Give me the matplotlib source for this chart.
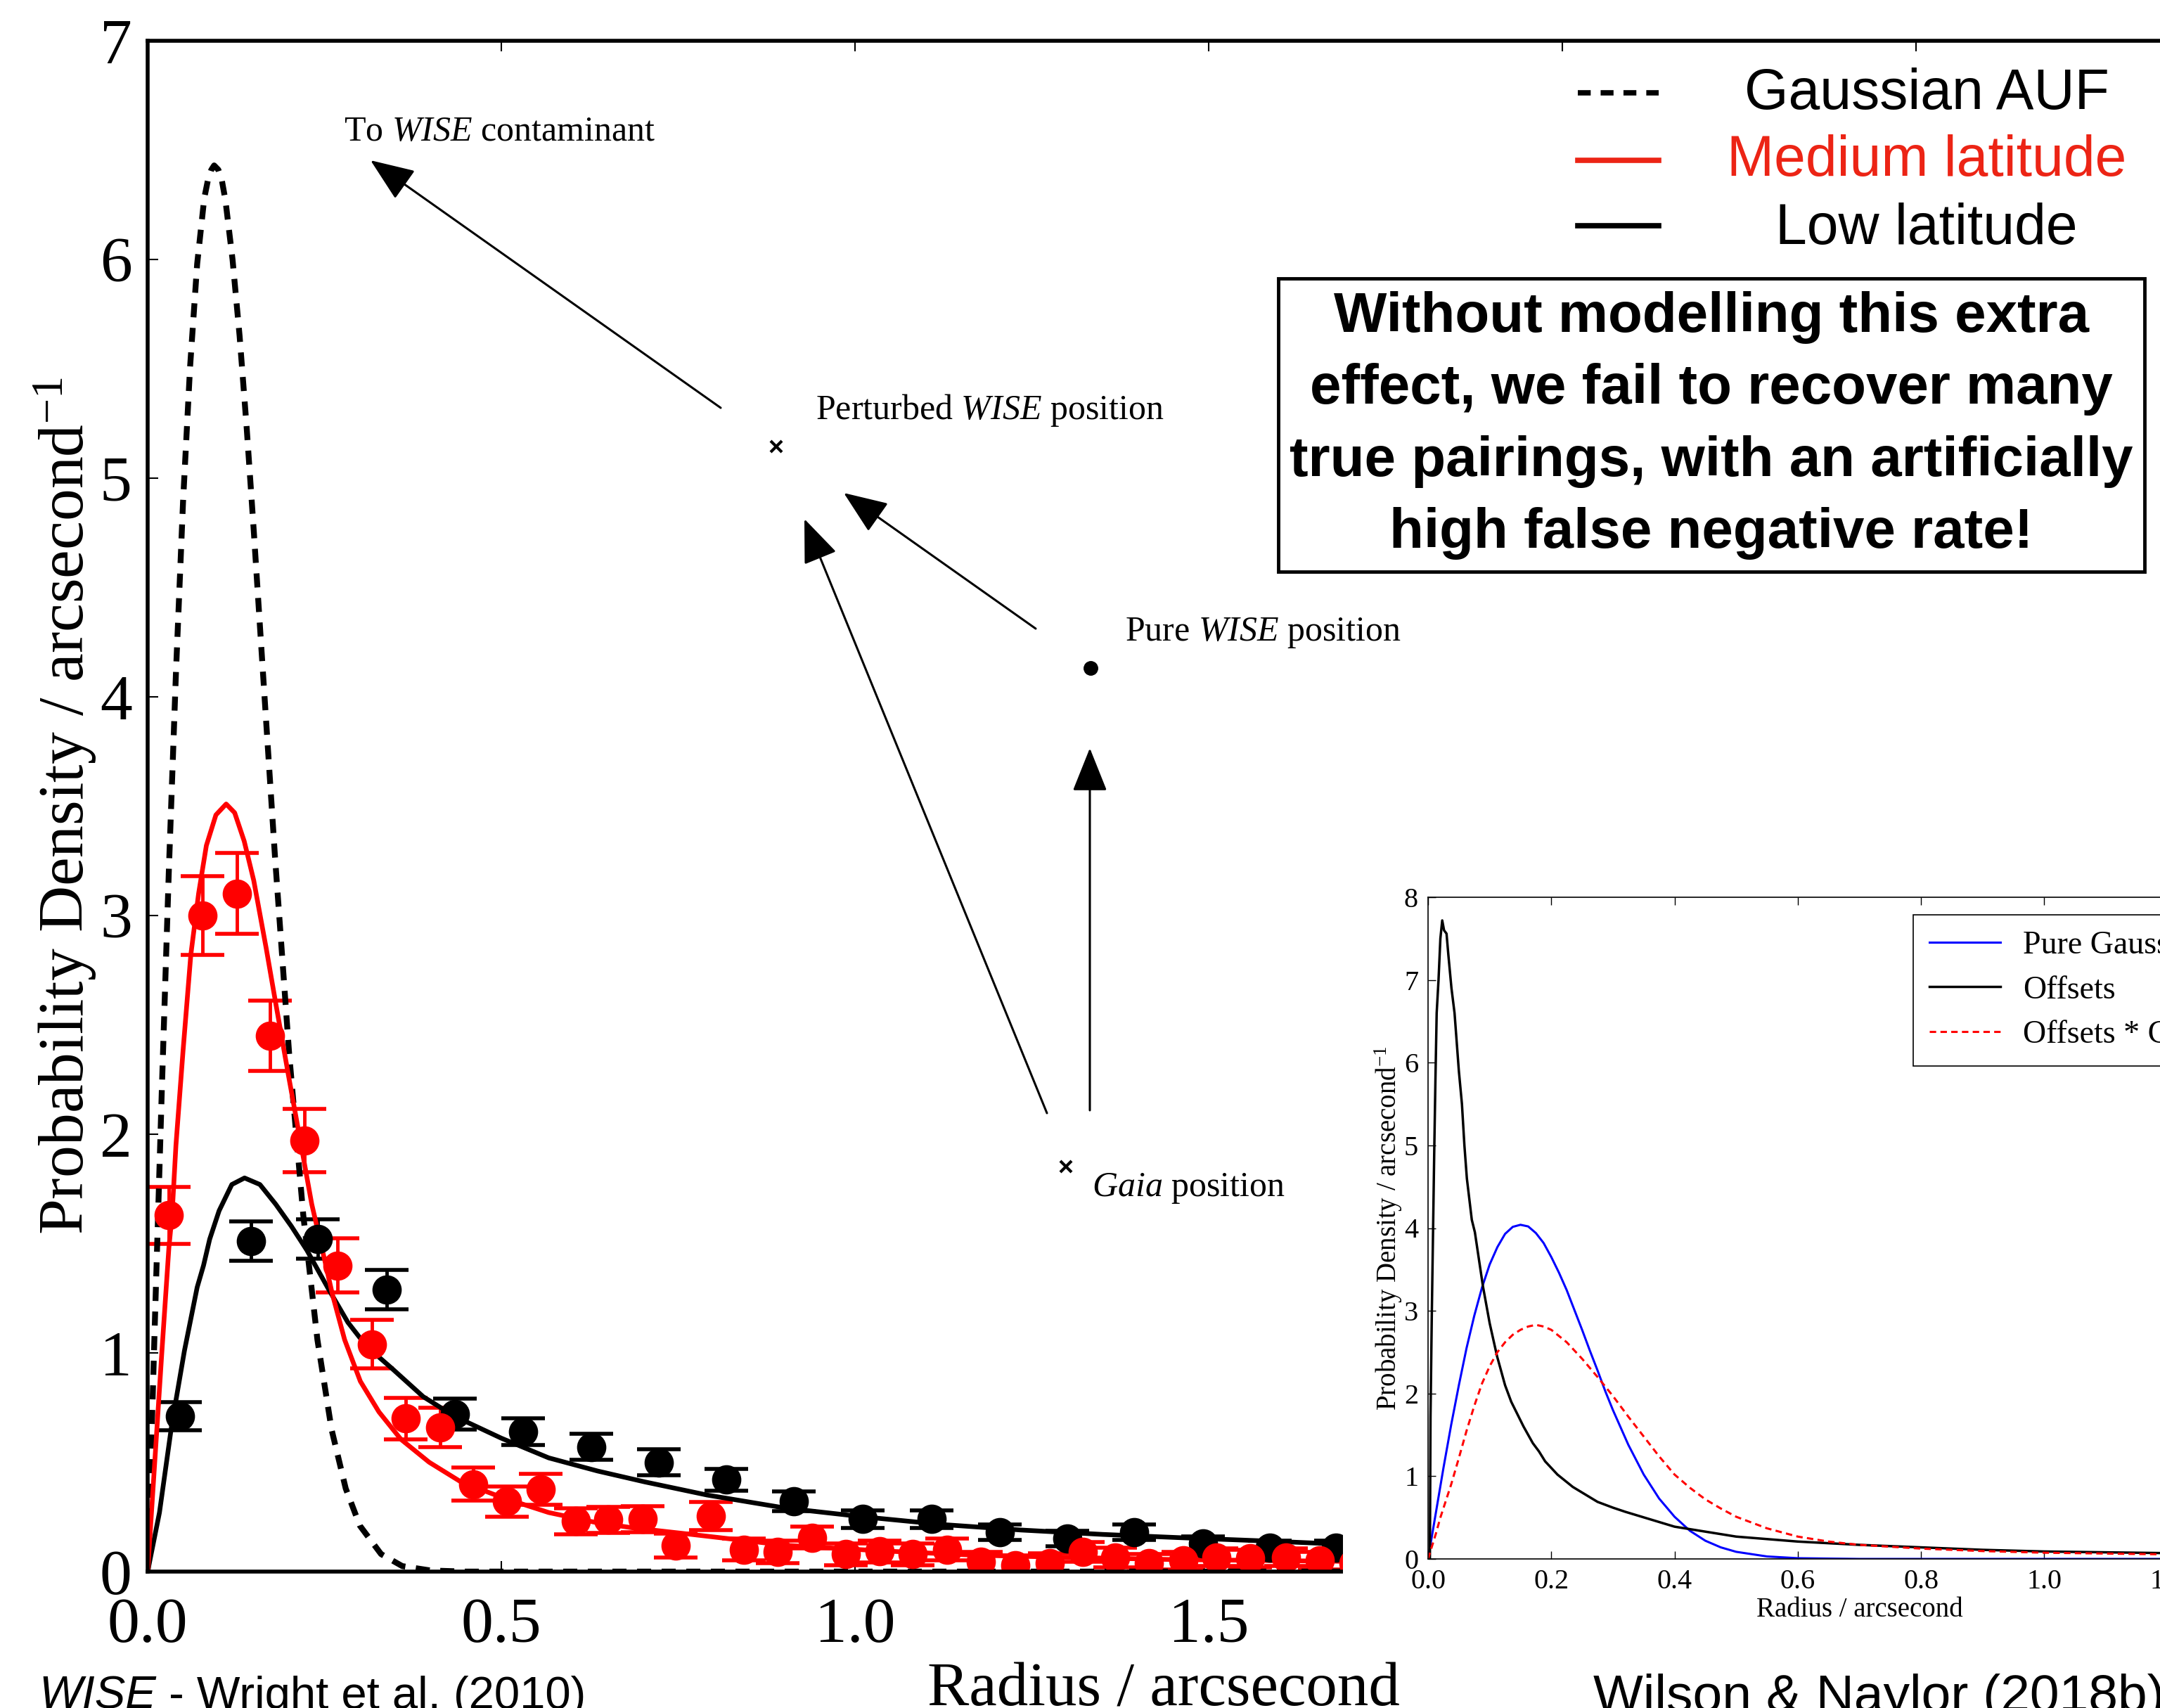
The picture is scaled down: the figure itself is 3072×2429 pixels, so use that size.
import matplotlib
matplotlib.use("Agg")
import matplotlib.pyplot as plt
from matplotlib.patches import Rectangle

plt.rcParams['font.family'] = ['Liberation Serif', 'DejaVu Serif']
plt.rcParams['mathtext.fontset'] = 'custom'
plt.rcParams['mathtext.rm'] = 'Liberation Serif'
plt.rcParams['mathtext.it'] = 'Liberation Serif:italic'
plt.rcParams['mathtext.bf'] = 'Liberation Serif:bold'

W, H = 3072, 2429
SANS = ['Liberation Sans', 'DejaVu Sans']
RED_TXT = '#ec2415'

# ---- main panel: WISE AUF ----
gauss_x = [0, 0.01, 0.02, 0.03, 0.04, 0.05, 0.06, 0.07, 0.08, 0.085, 0.09, 0.094, 0.10, 0.105,
           0.11, 0.12, 0.13, 0.14, 0.15, 0.16, 0.18, 0.20, 0.22, 0.24, 0.26, 0.28, 0.30, 0.33,
           0.36, 0.40, 0.45, 3.0]
gauss_y = [0, 1.12, 2.20, 3.21, 4.11, 4.89, 5.51, 5.98, 6.28, 6.36, 6.41, 6.43, 6.41, 6.36,
           6.27, 6.00, 5.65, 5.23, 4.76, 4.26, 3.27, 2.37, 1.63, 1.06, 0.65, 0.38, 0.21, 0.08,
           0.025, 0.005, 0, 0]

med_fit_x = [0, 0.01, 0.02, 0.03, 0.0345, 0.04, 0.05, 0.061, 0.072, 0.083, 0.0965, 0.111, 0.123,
             0.1365, 0.150, 0.1676, 0.181, 0.199, 0.2164, 0.232, 0.252, 0.261, 0.2785, 0.3007,
             0.327, 0.358, 0.398, 0.443, 0.500, 0.567, 0.633, 0.686, 0.769, 0.9025, 1.036,
             1.169, 1.302, 1.45, 1.6, 1.75]
med_fit_y = [0, 0.50, 1.00, 1.48, 1.63, 1.95, 2.38, 2.82, 3.10, 3.32, 3.46, 3.51, 3.47,
             3.34, 3.16, 2.85, 2.60, 2.27, 1.96, 1.68, 1.40, 1.27, 1.06, 0.87,
             0.73, 0.605, 0.50, 0.41, 0.34, 0.27, 0.225, 0.20, 0.17, 0.12, 0.095,
             0.075, 0.065, 0.055, 0.05, 0.045]

low_fit_x = [0, 0.0167, 0.034, 0.052, 0.070, 0.079, 0.0877, 0.101, 0.119, 0.137, 0.1587, 0.181,
             0.203, 0.225, 0.256, 0.283, 0.3095, 0.345, 0.3895, 0.434, 0.500, 0.567, 0.636,
             0.703, 0.791, 0.9025, 1.013, 1.124, 1.235, 1.35, 1.46, 1.58, 1.69, 1.75]
low_fit_y = [0, 0.27, 0.67, 1.01, 1.30, 1.40, 1.52, 1.65, 1.77, 1.80, 1.77, 1.68,
             1.58, 1.47, 1.29, 1.14, 1.03, 0.93, 0.80, 0.71, 0.61, 0.52, 0.46,
             0.41, 0.35, 0.29, 0.25, 0.215, 0.19, 0.17, 0.155, 0.14, 0.125, 0.12]

med_x = [0.030, 0.078, 0.126, 0.173, 0.222, 0.268, 0.317, 0.365, 0.414, 0.460, 0.508, 0.556,
         0.605, 0.651, 0.700, 0.747, 0.796, 0.843, 0.891, 0.939, 0.987, 1.035, 1.082, 1.130,
         1.178, 1.227, 1.275, 1.322, 1.368, 1.416, 1.464, 1.511, 1.559, 1.609, 1.657, 1.705]
med_y = [1.63, 3.00, 3.10, 2.45, 1.97, 1.40, 1.04, 0.70, 0.66, 0.40, 0.32, 0.376,
         0.23, 0.237, 0.24, 0.12, 0.254, 0.10, 0.09, 0.155, 0.08, 0.093, 0.08, 0.10,
         0.045, 0.03, 0.04, 0.09, 0.065, 0.04, 0.05, 0.065, 0.06, 0.065, 0.05, 0.04]
med_err = [0.13, 0.18, 0.185, 0.16, 0.145, 0.125, 0.11, 0.095, 0.09, 0.075, 0.07, 0.07,
           0.06, 0.06, 0.06, 0.055, 0.065, 0.05, 0.05, 0.05, 0.05, 0.05, 0.05, 0.05,
           0.045, 0.045, 0.045, 0.045, 0.045, 0.04, 0.04, 0.04, 0.04, 0.04, 0.04, 0.04]

low_x = [0.046, 0.146, 0.241, 0.338, 0.434, 0.531, 0.627, 0.723, 0.818, 0.914, 1.011, 1.108,
         1.205, 1.300, 1.395, 1.492, 1.586, 1.680]
low_y = [0.71, 1.51, 1.52, 1.29, 0.72, 0.64, 0.57, 0.50, 0.42, 0.32, 0.24, 0.24,
         0.18, 0.15, 0.18, 0.13, 0.11, 0.11]
low_err = [0.065, 0.09, 0.09, 0.09, 0.07, 0.06, 0.06, 0.06, 0.05, 0.045, 0.04, 0.04,
           0.035, 0.035, 0.035, 0.03, 0.03, 0.03]

main_xticks = [0, 0.5, 1.0, 1.5, 2.0, 2.5]
main_xticklabels = ['0.0', '0.5', '1.0', '1.5', '', '']
main_yticks = [0, 1, 2, 3, 4, 5, 6, 7]

legend_labels = ['Gaussian AUF', 'Medium latitude', 'Low latitude']
box_text = ('Without modelling this extra\neffect, we fail to recover many\n'
            'true pairings, with an artificially\nhigh false negative rate!')

# ---- inset: Wilson & Naylor (2018b) ----
pure_x = [0, 0.0125, 0.025, 0.0375, 0.05, 0.0625, 0.075, 0.0875, 0.10, 0.1125, 0.125, 0.1375,
          0.15, 0.1625, 0.175, 0.1875, 0.20, 0.2125, 0.225, 0.2375, 0.25, 0.2625, 0.275,
          0.2875, 0.30, 0.325, 0.35, 0.375, 0.40, 0.425, 0.45, 0.475, 0.50, 0.55, 0.60, 0.70, 1.4]
pure_y = [0, 0.55, 1.10, 1.62, 2.10, 2.55, 2.94, 3.28, 3.56, 3.77, 3.93, 4.015,
          4.04, 4.02, 3.94, 3.82, 3.65, 3.46, 3.25, 3.01, 2.77, 2.52, 2.28,
          2.03, 1.80, 1.38, 1.02, 0.73, 0.51, 0.34, 0.22, 0.14, 0.086, 0.03, 0.009, 0, 0]

off_x = [0.0, 0.003, 0.004, 0.006, 0.008, 0.010, 0.012, 0.014, 0.017, 0.020, 0.023, 0.026, 0.030,
         0.033, 0.038, 0.043, 0.050, 0.055, 0.059, 0.063, 0.071, 0.076, 0.089, 0.10, 0.112,
         0.125, 0.135, 0.145, 0.155, 0.17, 0.18, 0.19, 0.21, 0.235, 0.255, 0.275, 0.30, 0.32,
         0.36, 0.40, 0.45, 0.50, 0.55, 0.60, 0.70, 0.80, 0.90, 1.0, 1.1, 1.2, 1.3, 1.4]
off_y = [0.0, 0.0, 1.72, 2.9, 3.9, 4.9, 5.8, 6.6, 7.0, 7.5, 7.72, 7.6, 7.56,
         7.3, 6.9, 6.6, 5.9, 5.5, 5.0, 4.6, 4.1, 3.95, 3.3, 2.85, 2.45,
         2.1, 1.9, 1.75, 1.6, 1.4, 1.3, 1.18, 1.02, 0.87, 0.78, 0.69, 0.62, 0.57,
         0.48, 0.39, 0.33, 0.27, 0.24, 0.21, 0.17, 0.14, 0.11, 0.09, 0.08, 0.07, 0.06, 0.05]

conv_x = [0, 0.0125, 0.02, 0.0375, 0.05, 0.0625, 0.075, 0.0875, 0.10, 0.1125, 0.125, 0.1375,
          0.15, 0.1625, 0.175, 0.1875, 0.20, 0.225, 0.25, 0.275, 0.30, 0.325, 0.35, 0.375,
          0.40, 0.425, 0.45, 0.475, 0.50, 0.55, 0.60, 0.65, 0.70, 0.80, 0.90, 1.0, 1.2, 1.4]
conv_y = [0, 0.30, 0.50, 0.90, 1.22, 1.55, 1.85, 2.12, 2.33, 2.50, 2.62, 2.71,
          2.77, 2.81, 2.83, 2.81, 2.77, 2.62, 2.42, 2.20, 1.97, 1.72, 1.48, 1.24,
          1.02, 0.86, 0.72, 0.61, 0.51, 0.37, 0.27, 0.21, 0.17, 0.125, 0.095, 0.075, 0.055, 0.045]

inset_xticks = [0.0, 0.2, 0.4, 0.6, 0.8, 1.0, 1.2, 1.4]
inset_yticks = [0, 1, 2, 3, 4, 5, 6, 7, 8]


def rect(x0, y0, x1, y1):
    # pixel box measured from the top-left corner -> add_axes rectangle
    return [x0 / W, 1 - y1 / H, (x1 - x0) / W, (y1 - y0) / H]


fig = plt.figure(figsize=(W / 100, H / 100), dpi=100)

# main axes (runs off the right edge of the slide)
ax = fig.add_axes(rect(210, 58, 3228, 2235))
ax.errorbar(low_x, low_y, yerr=low_err, fmt='o', color='k', ms=29, elinewidth=3.5,
            capsize=22, capthick=4)
ax.errorbar(med_x, med_y, yerr=med_err, fmt='o', color='red', ms=29, elinewidth=3.5,
            capsize=22, capthick=4)
ax.plot(gauss_x, gauss_y, color='k', lw=6, dashes=(2.4, 1.8))
ax.plot(low_fit_x, low_fit_y, color='k', lw=4.8)
ax.plot(med_fit_x, med_fit_y, color='red', lw=4.8)
ax.set_xlim(0, 3)
ax.set_ylim(0, 7)
ax.set_xticks(main_xticks)
ax.set_xticklabels(main_xticklabels)
ax.set_yticks(main_yticks)
ax.tick_params(direction='in', top=True, right=True, length=11, width=1.5, labelsize=66)
ax.tick_params(axis='x', pad=26)
ax.tick_params(axis='y', pad=16)
for s in ax.spines.values():
    s.set_linewidth(4)
ax.set_xlabel('Radius / arcsecond', fontsize=64)
ax.xaxis.set_label_coords(0.4788, -0.0877)
ax.xaxis.label.set_va('baseline')
ax.set_ylabel('Probability Density / arcsecond$^{-1}$', fontsize=66)
ax.yaxis.set_label_coords(-0.0300, 0.5)
ax.yaxis.label.set_va('baseline')

# overlay in slide pixels for the sketch, legend and notes
ov = fig.add_axes([0, 0, 1, 1])
ov.set_xlim(0, W)
ov.set_ylim(H, 0)
ov.axis('off')
ov.add_patch(Rectangle((1910, 1000), W - 1910, 1330, facecolor='white', edgecolor='none'))

arr = dict(arrowstyle='-|>,head_length=0.5,head_width=0.2', mutation_scale=78, lw=2.2,
           color='k', shrinkA=0, shrinkB=0)
for tail, tip in [((1025, 580), (527, 228)), ((1473, 894), (1200, 701)),
                  ((1489, 1583), (1144, 738)), ((1550, 1579), (1550, 1064))]:
    ov.annotate('', xy=tip, xytext=tail, arrowprops=arr)

ov.plot([1104], [635], marker='x', ms=11, mew=3, color='k')
ov.plot([1551], [950], marker='o', ms=14, color='k')
ov.plot([1516], [1659], marker='x', ms=11, mew=3, color='k')
ov.text(489, 200, r'To $\mathit{WISE}$ contaminant', fontsize=36, va='baseline')
ov.text(1160, 596, r'Perturbed $\mathit{WISE}$ position', fontsize=36, va='baseline')
ov.text(1600, 911, r'Pure $\mathit{WISE}$ position', fontsize=36, va='baseline')
ov.text(1553, 1701, r'$\mathit{Gaia}$ position', fontsize=36, va='baseline')

# legend of the main panel
ov.plot([2244, 2359], [132, 132], color='k', lw=5.5, dashes=(2.4, 1.85))
ov.plot([2244, 2359], [228, 228], color=RED_TXT, lw=5.5)
ov.plot([2244, 2359], [321, 321], color='k', lw=5.5)
for lab, yb, c in zip(legend_labels, [155, 250, 347], ['k', RED_TXT, 'k']):
    ov.text(2740, yb, lab, ha='center', va='baseline', fontsize=58, family=SANS, color=c)

ov.add_patch(Rectangle((1818, 396), 1232, 417, fill=False, lw=3.5, edgecolor='k'))
ov.text(2434, 605, box_text, ha='center', va='center', multialignment='center',
        fontsize=57.5, weight='bold', family=SANS, linespacing=1.47)

# captions
t1 = ov.text(55, 2430, 'WISE', fontsize=47, family=SANS, style='italic', va='baseline')
ov.annotate(' - Wright et al. (2010)', xy=(1, 0), xycoords=t1, va='bottom', ha='left',
            fontsize=47, family=SANS)
ov.text(2266, 2434, 'Wilson & Naylor (2018b)', fontsize=54, family=SANS, va='baseline')

# inset panel
axi = fig.add_axes(rect(2031, 1276, 3258, 2217))
axi.plot(pure_x, pure_y, color='b', lw=2.2, label='Pure Gaussian')
axi.plot(off_x, off_y, color='k', lw=2.5, label='Offsets')
axi.plot(conv_x, conv_y, color='red', lw=2.2, dashes=(3, 2), label='Offsets * Gaussian')
axi.set_xlim(0, 1.4)
axi.set_ylim(0, 8)
axi.set_xticks(inset_xticks)
axi.set_yticks(inset_yticks)
axi.tick_params(direction='in', top=True, right=True, length=8, width=1, labelsize=29, pad=10)
for s in axi.spines.values():
    s.set_linewidth(1.2)
axi.set_xlabel('Radius / arcsecond', fontsize=28)
axi.xaxis.set_label_coords(0.5, -0.087)
axi.xaxis.label.set_va('baseline')
axi.set_ylabel('Probability Density / arcsecond$^{-1}$', fontsize=28)
axi.yaxis.set_label_coords(-0.0367, 0.5)
axi.yaxis.label.set_va('baseline')
leg = axi.legend(loc='upper left', bbox_to_anchor=(2721 / W, 1 - 1301 / H),
                 bbox_transform=fig.transFigure, fontsize=33, fancybox=False,
                 edgecolor='k', framealpha=1, handlelength=2.2, handletextpad=0.7,
                 labelspacing=0.45, borderaxespad=0, borderpad=0.5)
leg.get_frame().set_linewidth(1.2)

fig.savefig('out.png', dpi=100)
